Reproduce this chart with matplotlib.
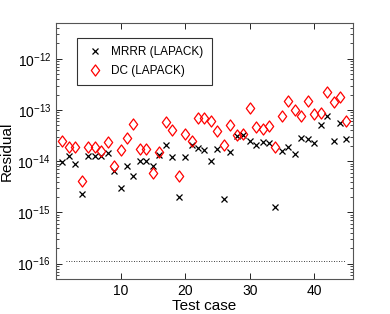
import numpy as np
import matplotlib
matplotlib.use("Agg")
import matplotlib.pyplot as plt
from matplotlib.path import Path

plt.rcParams['font.family'] = ['Liberation Sans', 'DejaVu Sans']

cases = list(range(1, 46))
mrrr_log = [-14.01, -13.90, -14.05, -14.64, -13.90, -13.90, -13.90, -13.84, -14.19, -14.52,
            -14.09, -14.29, -14.00, -14.00, -14.09, -13.88, -13.69, -13.91, -14.69, -13.92,
            -13.68, -13.74, -13.79, -13.99, -13.77, -14.73, -13.83, -13.51, -13.48, -13.61,
            -13.69, -13.62, -13.64, -14.89, -13.80, -13.72, -13.86, -13.55, -13.56, -13.64,
            -13.30, -13.11, -13.61, -13.26, -13.57]
dc_log = [-13.61, -13.73, -13.73, -14.39, -13.72, -13.72, -13.80, -13.63, -14.10, -13.78,
          -13.55, -13.27, -13.77, -13.77, -14.24, -13.82, -13.24, -13.39, -14.28, -13.47,
          -13.61, -13.15, -13.16, -13.21, -13.41, -13.69, -13.29, -13.48, -13.46, -12.97,
          -13.33, -13.37, -13.32, -13.72, -13.12, -12.82, -13.01, -13.12, -12.82, -13.07,
          -13.05, -12.65, -12.85, -12.74, -13.22]
mrrr = 10.0 ** np.array(mrrr_log)
dc = 10.0 ** np.array(dc_log)
eps_level = 1.11e-16
eps_range = [1.5, 44.8]

diamond = Path([(0, 1), (0.75, 0), (0, -1), (-0.75, 0), (0, 1)],
               [Path.MOVETO, Path.LINETO, Path.LINETO, Path.LINETO, Path.CLOSEPOLY])

fig = plt.figure(figsize=(3.9, 3.14), dpi=100)
ax = fig.add_axes([0.1436, 0.1115, 0.7614, 0.8153])

ax.plot(cases, mrrr, linestyle='none', marker='x', color='black', markersize=4.2,
        markeredgewidth=0.9, label='MRRR (LAPACK)')
ax.plot(cases, dc, linestyle='none', marker=diamond, markerfacecolor='none',
        markeredgecolor='red', markersize=8, markeredgewidth=0.9, label='DC (LAPACK)')
ax.plot(eps_range, [eps_level, eps_level], linestyle=(0, (1, 2)), color='black', linewidth=0.6)

ax.set_yscale('log')
ax.set_ylim(5e-17, 5e-12)
ax.set_xlim(0, 46)
ax.set_xticks([10, 20, 30, 40])
ax.set_yticks([1e-16, 1e-15, 1e-14, 1e-13, 1e-12])
ax.tick_params(axis='both', which='both', direction='in', top=True, right=True,
               labelsize=10, colors='black')
ax.tick_params(axis='both', which='major', length=4, width=0.6)
ax.tick_params(axis='y', which='minor', length=2, width=0.5)
for s in ax.spines.values():
    s.set_linewidth(0.8)
    s.set_color('#555555')

ax.set_xlabel('Test case', fontsize=11, labelpad=1)
ax.set_ylabel('Residual', fontsize=11, labelpad=3)

leg = ax.legend(loc='upper left', bbox_to_anchor=(0.071, 0.941), borderaxespad=0,
                fontsize=8.5, frameon=True, fancybox=False, edgecolor='black',
                handletextpad=0.6, borderpad=0.7, labelspacing=0.55, handlelength=1.6)
leg.get_frame().set_linewidth(0.8)

fig.savefig('out.png', dpi=100)
